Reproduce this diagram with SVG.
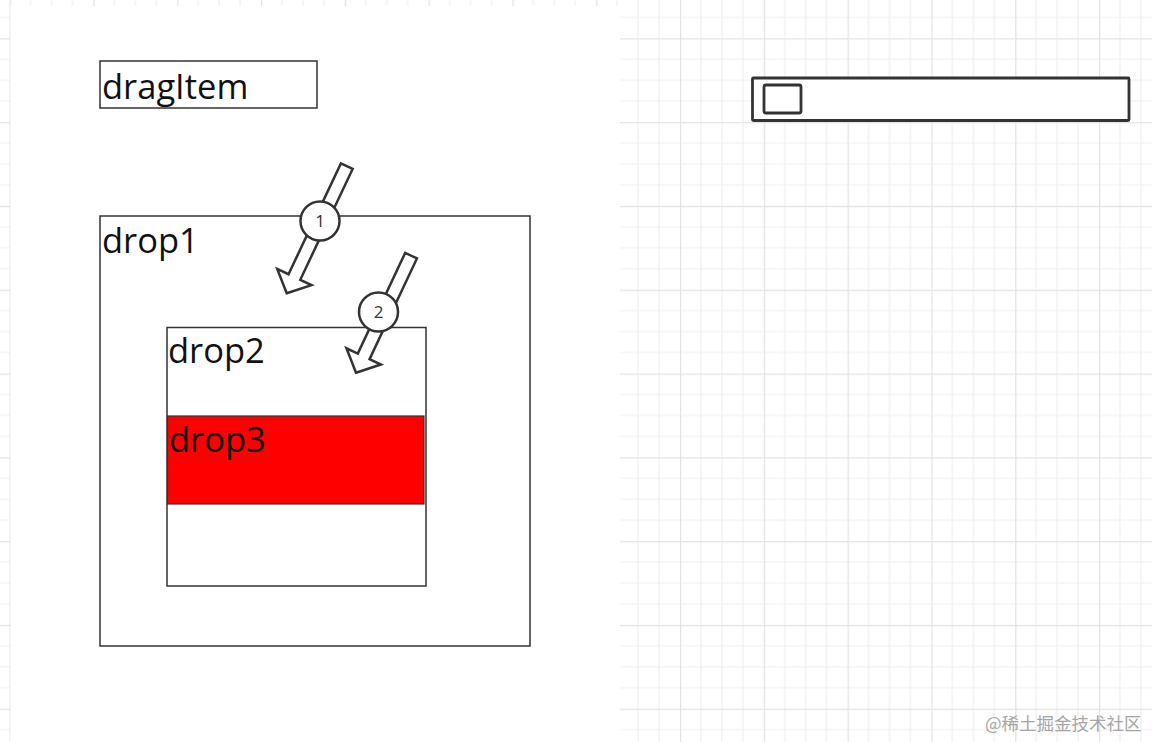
<svg xmlns="http://www.w3.org/2000/svg" width="1152" height="742" viewBox="0 0 1152 742">
  <style>
    .box { fill: none; stroke: #333; stroke-width: 1.5; }
    .label { font-family: "Open Sans", "Noto Sans", "DejaVu Sans", sans-serif; font-size: 34.5px; fill: #111; }
    .arrow { fill: #fff; stroke: #333; stroke-width: 2.5; stroke-linejoin: miter; }
    .badge { fill: #fff; stroke: #333; stroke-width: 2.5; }
    .badge-text { font-family: "Open Sans", "Noto Sans", sans-serif; font-size: 17px; fill: #333; text-anchor: middle; }
    .ctrl { fill: #fff; stroke: #333; stroke-width: 2.8; }
  </style>
  <defs>
    <pattern id="grid" x="9.6" y="38.3" width="83.8" height="83.8" patternUnits="userSpaceOnUse">
      <path d="M20.95 0V83.8M41.9 0V83.8M62.85 0V83.8M0 20.95H83.8M0 41.9H83.8M0 62.85H83.8" stroke="#efefef" stroke-width="1.2" fill="none"/>
      <path d="M0.5 0V83.8M0 0.5H83.8" stroke="#e3e3e3" stroke-width="1.5" fill="none"/>
    </pattern>
  </defs>

  <rect x="0" y="0" width="1152" height="742" fill="#fff"/>
  <rect x="0" y="0" width="1152" height="742" fill="url(#grid)"/>
  <rect x="10.5" y="6" width="609.5" height="736" fill="#fff"/>

  <g id="dragItem">
    <rect class="box" x="100" y="61" width="217" height="47"/>
    <text class="label" x="102" y="99">dragItem</text>
  </g>

  <g id="drop1">
    <rect class="box" x="100" y="216" width="430" height="430"/>
    <text class="label" x="102" y="253">drop1</text>
  </g>

  <g id="drop2">
    <rect class="box" x="167" y="327.5" width="259" height="258.5"/>
    <text class="label" x="168" y="363">drop2</text>
  </g>

  <g id="drop3">
    <rect x="167.5" y="416" width="256.5" height="88" fill="#ff0000" stroke="#333" stroke-width="1.2"/>
    <text class="label" x="169" y="452">drop3</text>
  </g>

  <g id="connectors">
    <polygon class="arrow" transform="translate(286.7,293.3) rotate(115.3)" points="0,0 -18,-19 -18,-6.5 -140.6,-6.5 -140.6,6.5 -18,6.5 -18,19"/>
    <polygon class="arrow" transform="translate(356,372.7) rotate(115.2)" points="0,0 -18,-19 -18,-6.5 -129.3,-6.5 -129.3,6.5 -18,6.5 -18,19"/>
  </g>

  <g id="step1">
    <circle class="badge" cx="320" cy="221" r="19.5"/>
    <text class="badge-text" x="320" y="227">1</text>
  </g>

  <g id="step2">
    <circle class="badge" cx="378.5" cy="312" r="19.5"/>
    <text class="badge-text" x="378.5" y="318">2</text>
  </g>

  <g id="scrollbar">
    <rect class="ctrl" x="752.5" y="78" width="376.5" height="42.5" rx="1"/>
    <rect class="ctrl" x="764" y="85" width="37" height="28" rx="2"/>
  </g>

  <text x="985" y="730" font-family="'Noto Sans CJK SC', 'Noto Sans', sans-serif" font-size="17.5" fill="#a6a6a6">@稀土掘金技术社区</text>
</svg>
